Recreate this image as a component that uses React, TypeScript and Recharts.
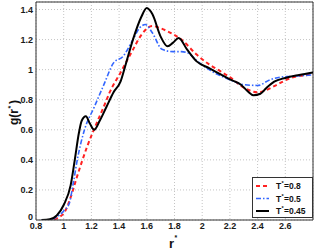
import React from 'react';
import { LineChart, Line, XAxis, YAxis, CartesianGrid, ReferenceLine, Legend } from 'recharts';

// T* = 0.8 (red dashed)
const rHot = [0.88, 0.93, 0.97, 1.005, 1.05, 1.09, 1.17, 1.25, 1.29, 1.33, 1.41, 1.5, 1.56, 1.64, 1.7, 1.75, 1.85, 1.96, 2.05, 2.13, 2.2, 2.3, 2.4, 2.45, 2.52, 2.64, 2.72, 2.8];
const gHot = [0, 0.005, 0.02, 0.05, 0.15, 0.27, 0.49, 0.67, 0.755, 0.845, 0.98, 1.133, 1.23, 1.29, 1.275, 1.255, 1.2, 1.1, 1.035, 0.99, 0.95, 0.88, 0.85, 0.86, 0.89, 0.945, 0.96, 0.967];

// T* = 0.5 (blue dash-dot)
const rMid = [0.84, 0.9, 0.95, 1.0, 1.04, 1.07, 1.1, 1.15, 1.22, 1.29, 1.36, 1.43, 1.5, 1.55, 1.59, 1.64, 1.71, 1.79, 1.85, 1.9, 1.96, 2.05, 2.13, 2.2, 2.3, 2.4, 2.49, 2.56, 2.64, 2.72, 2.8];
const gMid = [0, 0.003, 0.02, 0.06, 0.11, 0.25, 0.41, 0.6, 0.75, 0.9, 1.045, 1.09, 1.2, 1.28, 1.3, 1.245, 1.135, 1.12, 1.12, 1.11, 1.06, 1.0, 0.96, 0.933, 0.9, 0.895, 0.933, 0.95, 0.955, 0.96, 0.965];

// T* = 0.45 (black solid)
const rCold = [0.84, 0.9, 0.95, 1.0, 1.05, 1.08, 1.11, 1.13, 1.16, 1.19, 1.22, 1.26, 1.31, 1.36, 1.41, 1.44, 1.5, 1.56, 1.6, 1.64, 1.7, 1.75, 1.79, 1.83, 1.89, 1.96, 2.05, 2.13, 2.2, 2.28, 2.33, 2.37, 2.42, 2.46, 2.52, 2.6, 2.7, 2.8];
const gCold = [0, 0.005, 0.03, 0.1, 0.23, 0.4, 0.58, 0.66, 0.69, 0.64, 0.6, 0.66, 0.755, 0.85, 0.92, 1.01, 1.2, 1.35, 1.41, 1.37, 1.22, 1.155, 1.18, 1.21, 1.135, 1.055, 1.01, 0.97, 0.935, 0.9, 0.855, 0.83, 0.84, 0.875, 0.92, 0.945, 0.965, 0.982];

const xTicks = [0.8, 1, 1.2, 1.4, 1.6, 1.8, 2, 2.2, 2.4, 2.6];
const yTicks = [0, 0.2, 0.4, 0.6, 0.8, 1, 1.2, 1.4];

const toPoints = (r: number[], g: number[]) => r.map((x, i) => ({ r: x, g: g[i] }));

const series = [
  { name: '0.8', data: toPoints(rHot, gHot), color: '#ff2222', width: 2, dash: '4 3' },
  { name: '0.5', data: toPoints(rMid, gMid), color: '#3366ff', width: 1.6, dash: '5 2 1.5 2' },
  { name: '0.45', data: toPoints(rCold, gCold), color: '#000000', width: 2, dash: undefined },
];

const FONT = '"Liberation Sans", Arial, sans-serif';
const tickStyle = { fontFamily: FONT, fontSize: 9, fontWeight: 'bold', fill: '#1a1a1a' };

const fmt = (v: number) => String(Number(v.toFixed(1)));

// y tick: the "0" is lifted a touch so it does not sit on the "0.8" below it
const YTick = (props: any) => {
  const { x, y, payload } = props;
  const lift = payload.value === 0 ? -3 : 0;
  return (
    <text x={x} y={y + lift} dy="0.355em" textAnchor="end" {...tickStyle}>
      {fmt(payload.value)}
    </text>
  );
};

const XLabel = () => (
  <g fontFamily={FONT} fontWeight="bold" fill="#111">
    <text x={169} y={248} fontSize={13}>r</text>
    <text x={174.5} y={240} fontSize={7}>*</text>
  </g>
);

// rotated frame: local -y is toward the left of the page, so the raised asterisk sits left
const YLabel = () => (
  <g transform="translate(18,112) rotate(-90)" fontFamily={FONT} fontWeight="bold" fill="#111">
    <text x={-13} y={0} fontSize={12}>g(r</text>
    <text x={3.5} y={-5} fontSize={7}>*</text>
    <text x={8} y={0} fontSize={12}>)</text>
  </g>
);

// legend drawn as svg, placed inside the plot's lower right corner
const LegendBox = () => (
  <svg width={61} height={41} style={{ display: 'block' }}>
    <rect x={0.5} y={0.5} width={60} height={40} fill="#fff" stroke="#333" />
    {series.map((s, i) => {
      const y = 9 + i * 12.5;
      return (
        <g key={s.name} fontFamily={FONT} fontWeight="bold" fill="#111">
          <line x1={4} x2={17} y1={y} y2={y} stroke={s.color} strokeWidth={s.width} strokeDasharray={s.dash} />
          <text x={24} y={y + 3} fontSize={8.5}>T</text>
          <text x={29.5} y={y - 1} fontSize={5.5}>*</text>
          <text x={32} y={y + 3} fontSize={8.5}>={s.name}</text>
        </g>
      );
    })}
  </svg>
);

export default function App() {
  return (
    <div style={{ width: 316, height: 251, background: '#fff' }}>
      <style>{'body{margin:0}'}</style>
      <LineChart width={316} height={251} margin={{ top: 2, right: 3, left: 0, bottom: 0 }}>
        <CartesianGrid stroke="#c4c4c4" strokeDasharray="1 2" />
        <XAxis
          type="number"
          dataKey="r"
          domain={[0.8, 2.8]}
          ticks={xTicks}
          tickFormatter={fmt}
          tick={tickStyle}
          tickLine={false}
          tickSize={0}
          tickMargin={3}
          height={31}
          stroke="#333"
          allowDataOverflow
          label={<XLabel />}
        />
        <YAxis
          type="number"
          domain={[0, 1.45]}
          ticks={yTicks}
          tick={<YTick />}
          tickLine={false}
          tickSize={0}
          tickMargin={3}
          width={36}
          stroke="#333"
          allowDataOverflow
          label={<YLabel />}
        />
        <ReferenceLine y={1.45} stroke="#333" />
        <ReferenceLine x={2.8} stroke="#333" />
        {series.map((s) => (
          <Line
            key={s.name}
            data={s.data}
            dataKey="g"
            type="monotone"
            stroke={s.color}
            strokeWidth={s.width}
            strokeDasharray={s.dash}
            dot={false}
            isAnimationActive={false}
          />
        ))}
        <Legend
          layout="vertical"
          align="center"
          verticalAlign="middle"
          content={<LegendBox />}
          wrapperStyle={{ position: 'absolute', left: 252, top: 177, width: 61, height: 41 }}
        />
      </LineChart>
    </div>
  );
}
